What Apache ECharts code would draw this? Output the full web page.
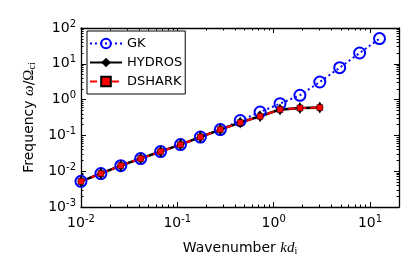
<!DOCTYPE html>
<html><head><meta charset="utf-8">
<script src="https://cdn.jsdelivr.net/npm/echarts@6/dist/echarts.min.js"></script>
<style>html,body{margin:0;padding:0;background:#fff}#c{width:415px;height:277px}</style>
</head><body><div id="c"></div>
<script>
// wavenumber k d_i sample points
const kGK = [0.01, 0.01609, 0.02589, 0.04166, 0.06703, 0.1079, 0.1736, 0.2793, 0.4494, 0.7232, 1.164, 1.872, 3.013, 4.848, 7.80, 12.55];
const wGK = [0.0052, 0.0086, 0.0143, 0.0225, 0.0353, 0.0553, 0.090, 0.145, 0.26, 0.45, 0.77, 1.32, 3.1, 7.8, 20.0, 50.6];
const kHY = [0.01, 0.01609, 0.02589, 0.04166, 0.06703, 0.1079, 0.1736, 0.2793, 0.4494, 0.7232, 1.164, 1.872, 3.013];
const wHY = [0.0052, 0.0086, 0.0143, 0.0225, 0.0353, 0.0553, 0.090, 0.145, 0.228, 0.342, 0.526, 0.582, 0.598];
const kDS = [0.01, 0.01609, 0.02589, 0.04166, 0.06703, 0.1079, 0.1736, 0.2793, 0.4494, 0.7232, 1.164, 1.872, 3.013];
const wDS = [0.0052, 0.0086, 0.0143, 0.0225, 0.0353, 0.0553, 0.090, 0.145, 0.228, 0.342, 0.526, 0.582, 0.598];
const xTicks = [0.01, 0.1, 1, 10];
const yTicks = [0.001, 0.01, 0.1, 1, 10, 100];
const xRange = [0.01, 20];
const yRange = [0.001, 100];

function minorOf(range){
  const out=[];
  for(let e=-4;e<=3;e++){const d=Math.pow(10,e);for(let m=2;m<=9;m++){const v=m*d; if(v>range[0]*1.0001&&v<range[1]*0.9999) out.push(v);}}
  return out;
}
const FONT='DejaVu Sans';
const rich={b:{fontSize:14,fontFamily:FONT,color:'#000'},s:{fontSize:10,fontFamily:FONT,color:'#000',verticalAlign:'bottom',padding:[0,0,8,0]}};
function fmt(v){const e=Math.round(Math.log10(v));return '{b|10}{s|'+e+'}';}
function axisBase(type,range,major,pos,labels,len,custom,showLine){
  return {type:'log',logBase:10,min:range[0],max:range[1],position:pos,
    axisLine:{show:showLine,lineStyle:{color:'#000',width:1.3}},
    axisTick:{show:true,inside:true,length:len,lineStyle:{color:'#000',width:1},customValues:custom},
    axisLabel:{show:labels,customValues:major,formatter:fmt,rich:rich,margin:labels?(type==='x'?7:5):0},
    splitLine:{show:false},minorTick:{show:false},minorSplitLine:{show:false}};
}
const xMin=minorOf(xRange), yMin=minorOf(yRange);
const xAxes=[
  Object.assign(axisBase('x',xRange,xTicks,'bottom',true,5,xTicks,true),{name:'Wavenumber {i|kd}{sub|i}',nameLocation:'middle',nameGap:33,
    nameTextStyle:{fontSize:14,fontFamily:FONT,color:'#000',rich:{i:{fontSize:15,fontFamily:'Liberation Serif',fontStyle:'italic',color:'#000'},sub:{fontSize:10,fontFamily:'Liberation Serif',color:'#000',verticalAlign:'top',padding:[6,0,0,0]}}}}),
  axisBase('x',xRange,xTicks,'top',false,5,xTicks,true),
  axisBase('x',xRange,xTicks,'bottom',false,2.5,xMin,false),
  axisBase('x',xRange,xTicks,'top',false,2.5,xMin,false)
];
const yAxes=[
  Object.assign(axisBase('y',yRange,yTicks,'left',true,5,yTicks,true),{name:'Frequency {i|ω}/{o|Ω}{sub|ci}',nameLocation:'middle',nameGap:44,nameRotate:90,
    nameTextStyle:{fontSize:14,fontFamily:FONT,color:'#000',rich:{i:{fontSize:15,fontFamily:'Liberation Serif',fontStyle:'italic',color:'#000'},o:{fontSize:15,fontFamily:'Liberation Serif',color:'#000'},sub:{fontSize:10,fontFamily:'Liberation Serif',color:'#000',verticalAlign:'top',padding:[6,0,0,0]}}}}),
  axisBase('y',yRange,yTicks,'right',false,5,yTicks,true),
  axisBase('y',yRange,yTicks,'left',false,2.5,yMin,false),
  axisBase('y',yRange,yTicks,'right',false,2.5,yMin,false)
];
const zip=(a,b)=>a.map((v,i)=>[v,b[i]]);
const chart=echarts.init(document.getElementById('c'),null,{renderer:'canvas'});
chart.setOption({
  animation:false,backgroundColor:'#fff',
  grid:{left:81,right:16,top:28,bottom:70,containLabel:false},
  xAxis:xAxes,yAxis:yAxes,
  legend:{orient:'vertical',left:87,top:31,backgroundColor:'#fff',borderColor:'#000',borderWidth:1,borderRadius:0,
    padding:[6,3,6,2],itemGap:6,itemWidth:32,itemHeight:12,
    textStyle:{fontSize:13,fontFamily:FONT,color:'#000'},
    data:['GK','HYDROS','DSHARK']},
  series:[
    {name:'GK',type:'line',data:zip(kGK,wGK),symbol:'circle',symbolSize:11,showSymbol:true,
      itemStyle:{color:'rgba(0,0,0,0)',borderColor:'#0000ff',borderWidth:2},
      lineStyle:{color:'#0000ff',width:2,type:[2,3]}},
    {name:'HYDROS',type:'line',data:zip(kHY,wHY),symbol:'diamond',symbolSize:[7,12],
      itemStyle:{color:'#000'},lineStyle:{color:'#000',width:2.6}},
    {name:'DSHARK',type:'line',data:zip(kDS,wDS),symbol:'rect',symbolSize:6,
      itemStyle:{color:'#ff0000',borderColor:'#000',borderWidth:0.5},lineStyle:{color:'#ff0000',width:2,type:[7,4]}}
  ]
});
</script></body></html>
